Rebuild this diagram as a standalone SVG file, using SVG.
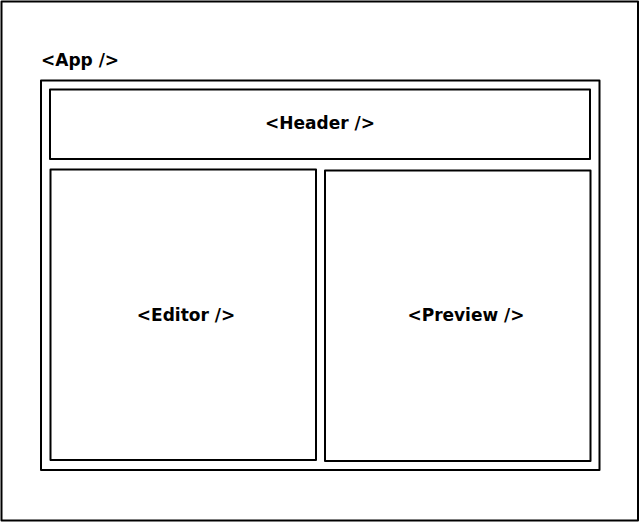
<svg xmlns="http://www.w3.org/2000/svg" width="640" height="523" viewBox="0 0 640 523">
<style>
.box{fill:none;stroke:#000;stroke-width:2;stroke-linejoin:round}
.lbl{font-family:"DejaVu Sans","Liberation Sans",sans-serif;font-size:17px;font-weight:bold;fill:#000}
</style>
<rect x="0" y="0" width="640" height="523" fill="#fff"/>
<g id="frame"><rect class="box" x="1.5" y="1.5" width="636.5" height="519"/></g>
<g id="app">
<rect class="box" x="41" y="80.5" width="558.5" height="389.5"/>
<text class="lbl" x="41" y="66">&lt;App /&gt;</text>
</g>
<g id="header">
<rect class="box" x="50" y="89.5" width="540" height="69.5"/>
<text class="lbl" x="320" y="128.5" text-anchor="middle">&lt;Header /&gt;</text>
</g>
<g id="editor">
<rect class="box" x="50.5" y="169.5" width="265.5" height="290.5"/>
<text class="lbl" x="186" y="320.5" text-anchor="middle">&lt;Editor /&gt;</text>
</g>
<g id="preview">
<rect class="box" x="325" y="170.5" width="265.5" height="290.5"/>
<text class="lbl" x="466" y="320.5" text-anchor="middle">&lt;Preview /&gt;</text>
</g>
<g id="connectors"/>
</svg>
